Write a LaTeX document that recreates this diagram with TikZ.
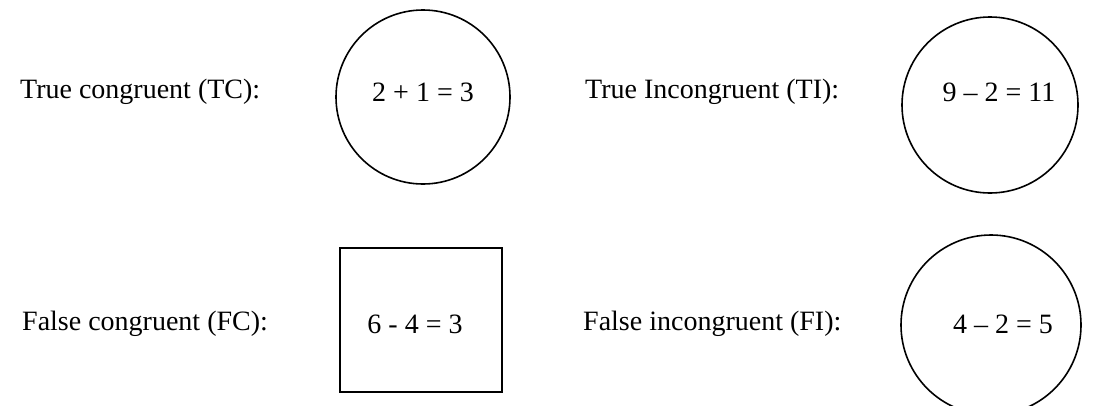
\documentclass[tikz,border=0pt]{standalone}
\usepackage{fontspec}
\setmainfont{Liberation Serif}
\begin{document}
\begin{tikzpicture}[x=1pt,y=-1pt,
  lbl/.style={anchor=west,inner sep=0pt,font=\fontsize{28}{32}\selectfont},
  eq/.style={inner sep=0pt,font=\fontsize{28}{32}\selectfont},
  ring/.style={draw,line width=1.6pt,circle,inner sep=0pt},
  sq/.style={draw,line width=1.6pt,rectangle,inner sep=0pt}]
\useasboundingbox (0,0) rectangle (1108,405);
\node[lbl] (tcl) at (20,92) {True congruent (TC):};
\node[ring,minimum size=174pt] (tcc) at (423,97) {};
\node[eq] (tce) at (423,92) {2 + 1 = 3};
\node[lbl] (til) at (585,92) {True Incongruent (TI):};
\node[ring,minimum size=176pt] (tic) at (990,105) {};
\node[eq] (tie) at (999,92) {9 -- 2 = 11};
\node[lbl] (fcl) at (22,324) {False congruent (FC):};
\node[sq,minimum width=162pt,minimum height=144pt] (fcb) at (421,320) {};
\node[eq] (fce) at (415,324) {6 - 4 = 3};
\node[lbl] (fil) at (583,324) {False incongruent (FI):};
\node[ring,minimum size=180pt] (fic) at (991,325) {};
\node[eq] (fie) at (1003,324) {4 -- 2 = 5};
\end{tikzpicture}
\end{document}
